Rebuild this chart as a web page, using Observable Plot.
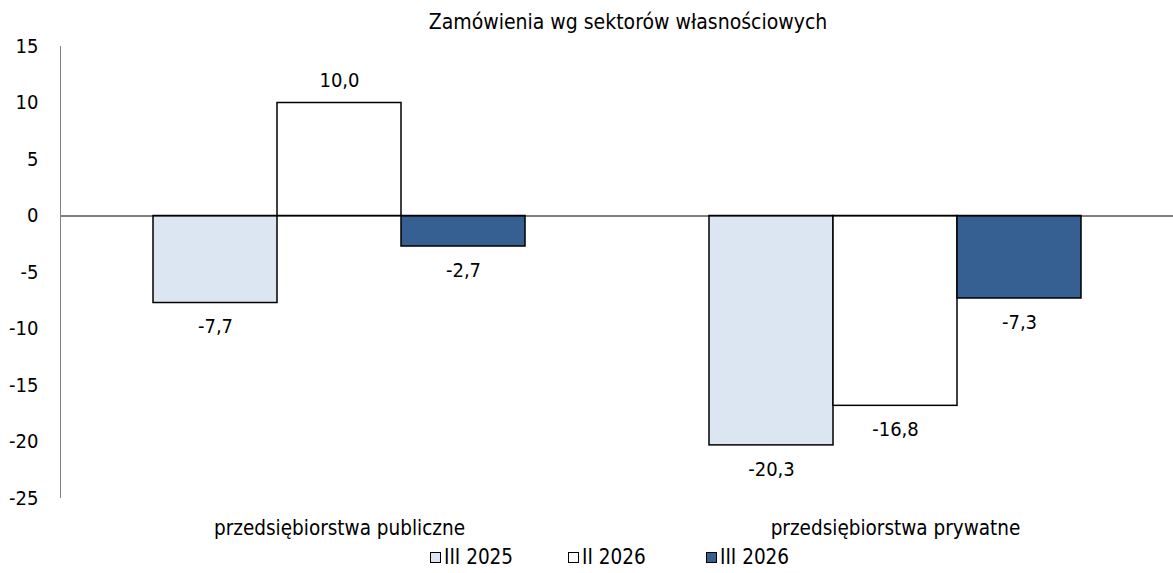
<!DOCTYPE html>
<html>
<head>
<meta charset="utf-8">
<script src="https://cdn.jsdelivr.net/npm/d3@7"></script>
<script src="https://cdn.jsdelivr.net/npm/@observablehq/plot@0.6"></script>
<style>
  html, body { margin: 0; padding: 0; background: #fff; }
  body { position: relative; width: 1173px; height: 573px; overflow: hidden; font-family: "DejaVu Sans Condensed", "DejaVu Sans", sans-serif; color: #000; }
  #title { position: absolute; left: 0; top: 7px; width: 1173px; height: 30px; line-height: 30px; text-align: center; font-size: 21px; padding-left: 83px; box-sizing: border-box; z-index: 2; }
  #chart { position: absolute; left: 0; top: 30px; z-index: 1; }
  #legend { position: absolute; left: 430px; top: 545px; height: 24px; display: flex; align-items: center; font-size: 20.5px; z-index: 2; }
  .item { display: flex; align-items: center; gap: 3px; width: 138px; }
  .sw { width: 11px; height: 11px; border: 1.5px solid #000; box-sizing: border-box; display: inline-block; }
</style>
</head>
<body>
<div id="title">Zamówienia wg sektorów własnościowych</div>
<div id="chart"></div>
<div id="legend"></div>
<script>
const categories = ["przedsiębiorstwa publiczne", "przedsiębiorstwa prywatne"];
const seriesNames = ["III 2025", "II 2026", "III 2026"];
const seriesColors = ["#dce6f2", "#ffffff", "#376092"];
const valuesIII2025 = [-7.7, -20.3];
const valuesII2026 = [10.0, -16.8];
const valuesIII2026 = [-2.7, -7.3];
const yTicks = [15, 10, 5, 0, -5, -10, -15, -20, -25];

const seriesValues = [valuesIII2025, valuesII2026, valuesIII2026];
const data = [];
categories.forEach((c, i) => {
  seriesNames.forEach((s, j) => {
    data.push({category: c, series: s, value: seriesValues[j][i]});
  });
});
const fmt = v => v.toFixed(1).replace(".", ",");

const chart = Plot.plot({
  width: 1173,
  height: 510,
  marginLeft: 60,
  marginRight: 0,
  marginTop: 16,
  marginBottom: 42,
  style: {fontFamily: '"DejaVu Sans Condensed", "DejaVu Sans", sans-serif', fontSize: "20px", color: "#000", background: "transparent", overflow: "visible"},
  fx: {domain: categories, padding: 0, label: null},
  x: {domain: seriesNames, axis: null, paddingInner: 0, paddingOuter: 0.735},
  y: {domain: [-25, 15], label: null},
  color: {domain: seriesNames, range: seriesColors},
  marks: [
    Plot.axisY({ticks: yTicks, tickFormat: d => String(d), tickSize: 0, tickPadding: 23, label: null, fontSize: 20}),
    Plot.axisFx({anchor: "bottom", tickSize: 0, tickPadding: 22, label: null, fontSize: 20.5}),
    Plot.barY(data, {fx: "category", x: "series", y: "value", fill: "series", stroke: "#000", strokeWidth: 1.5}),
    Plot.ruleY([0], {stroke: "#000", strokeWidth: 1}),
    Plot.text(data.filter(d => d.value >= 0), {fx: "category", x: "series", y: "value", text: d => fmt(d.value), dy: -22, fontSize: 20}),
    Plot.text(data.filter(d => d.value < 0), {fx: "category", x: "series", y: "value", text: d => fmt(d.value), dy: 24, fontSize: 20})
  ]
});

// y axis line drawn from the library's y scale
const ys = chart.scale("y");
const yScale = d3.scaleLinear().domain(ys.domain).range(ys.range);
d3.select(chart).append("line")
  .attr("x1", 60.5).attr("x2", 60.5)
  .attr("y1", yScale(15)).attr("y2", yScale(-25))
  .attr("stroke", "#808080").attr("stroke-width", 1);

document.getElementById("chart").appendChild(chart);

const legend = document.getElementById("legend");
seriesNames.forEach((s, j) => {
  const item = document.createElement("span");
  item.className = "item";
  const sw = document.createElement("span");
  sw.className = "sw";
  sw.style.background = seriesColors[j];
  item.appendChild(sw);
  item.appendChild(document.createTextNode(s));
  legend.appendChild(item);
});
</script>
</body>
</html>
